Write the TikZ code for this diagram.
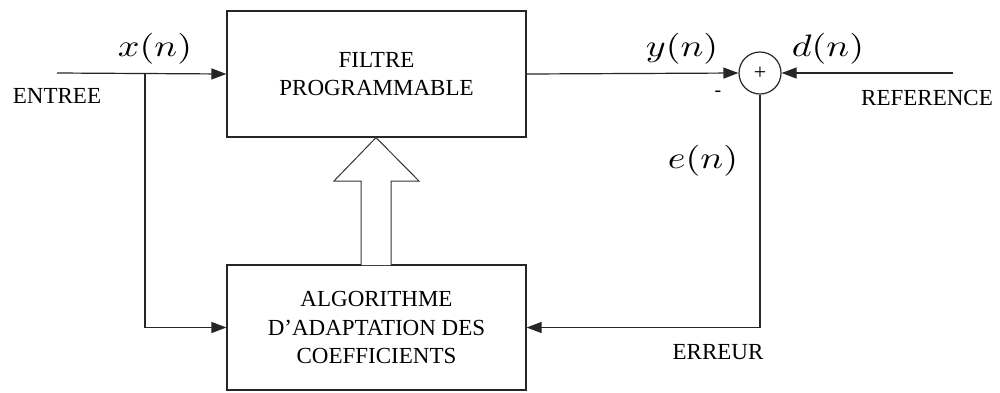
\documentclass[tikz,border=0pt]{standalone}
\usepackage{fontspec}
\setmainfont{LiberationSerif-Regular.ttf}[BoldFont=LiberationSerif-Bold.ttf]
\newfontfamily\capfont{LiberationSerif-Regular.ttf}[Ligatures=TeX]
\usetikzlibrary{arrows.meta,calc}

\tikzset{
  wire/.style={line width=1.2pt, draw=black!85},
  arr/.style={wire, -{Triangle[length=15pt,width=11pt]}},
  block/.style={draw=black!85, line width=1.2pt, rectangle, inner sep=0pt,
    align=center, font=\capfont\fontsize{23}{28.5}\selectfont},
  caps/.style={font=\capfont\fontsize{23}{28}\selectfont, inner sep=0pt, anchor=base},
  sig/.style={inner sep=0pt, anchor=base},
  sumnode/.style={draw=black!85, line width=1.2pt, circle, minimum size=42pt, inner sep=0pt,
    font=\capfont\fontsize{22}{22}\selectfont},
  hollow/.style={draw=black!80, line width=1pt, fill=white, line join=miter}
}
\newcommand{\siglabel}[1]{\scalebox{3.8}[3.1]{$#1$}}

\begin{document}
\begin{tikzpicture}[x=1pt,y=-1pt]
  \useasboundingbox (0,0) rectangle (1000,392);

  % blocks
  \node[block, minimum width=299pt, minimum height=126pt] (filt) at (376.5,74)
    {FILTRE\\PROGRAMMABLE};
  \node[block, minimum width=299pt, minimum height=125pt] (algo) at (376.5,327.5)
    {ALGORITHME\\D'ADAPTATION DES\\COEFFICIENTS};
  \node[sumnode] (sum) at (760,73) {+};

  % free ends and branch point
  \coordinate (in) at (57,73);
  \coordinate (br) at (145,73);
  \coordinate (ref) at (953,73);

  % connectors
  \draw[arr] (in) -- (filt.west);
  \draw[arr] (br) |- (algo.west);
  \draw[arr] (filt.east) -- (sum.west);
  \draw[arr] (ref) -- (sum.east);
  \draw[arr] (sum.south) |- (algo.east);

  % wide adaptation arrow between the blocks
  \draw[hollow] (361,265) -- (361,181) -- (334,181) -- (376,137.6)
    -- (419,181) -- (391,181) -- (391,265);

  % signal labels
  \node[sig] (xn) at (155,56) {\siglabel{x(n)}};
  \node[sig] (yn) at (682,56) {\siglabel{y(n)}};
  \node[sig] (dn) at (828,56) {\siglabel{d(n)}};
  \node[sig] (en) at (703,168) {\siglabel{e(n)}};
  \node[sig, font=\capfont\fontsize{20}{20}\selectfont] (minus) at (718,96) {-};

  % port labels
  \node[caps] (entree) at (57,103) {ENTREE};
  \node[caps] (refl) at (927,105) {REFERENCE};
  \node[caps] (err) at (718,359) {ERREUR};
\end{tikzpicture}
\end{document}
